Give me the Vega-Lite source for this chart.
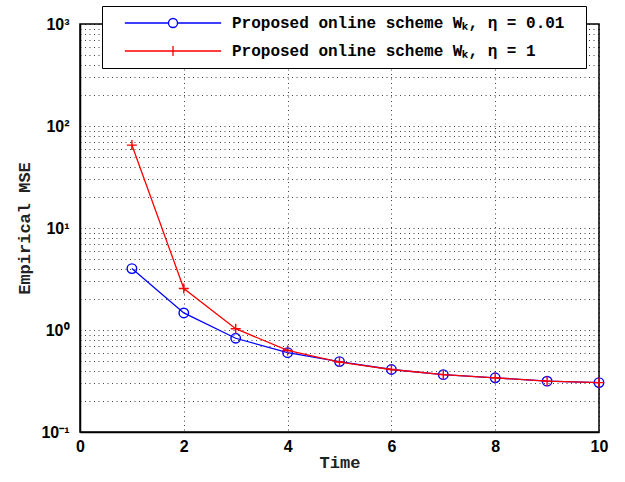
{
  "$schema": "https://vega.github.io/schema/vega-lite/v6.json",
  "width": 519,
  "height": 408,
  "autosize": "none",
  "padding": {"left": 80, "top": 24, "right": 26, "bottom": 50},
  "background": "white",
  "config": {"view": {"stroke": "black", "strokeWidth": 1.5}},
  "data": {
    "values": [
      {"time": 1, "mse": 4.0, "eta": "0.01", "series": "Proposed online scheme Wₖ, η = 0.01"},
      {"time": 2, "mse": 1.47, "eta": "0.01", "series": "Proposed online scheme Wₖ, η = 0.01"},
      {"time": 3, "mse": 0.83, "eta": "0.01", "series": "Proposed online scheme Wₖ, η = 0.01"},
      {"time": 4, "mse": 0.6, "eta": "0.01", "series": "Proposed online scheme Wₖ, η = 0.01"},
      {"time": 5, "mse": 0.49, "eta": "0.01", "series": "Proposed online scheme Wₖ, η = 0.01"},
      {"time": 6, "mse": 0.41, "eta": "0.01", "series": "Proposed online scheme Wₖ, η = 0.01"},
      {"time": 7, "mse": 0.365, "eta": "0.01", "series": "Proposed online scheme Wₖ, η = 0.01"},
      {"time": 8, "mse": 0.34, "eta": "0.01", "series": "Proposed online scheme Wₖ, η = 0.01"},
      {"time": 9, "mse": 0.315, "eta": "0.01", "series": "Proposed online scheme Wₖ, η = 0.01"},
      {"time": 10, "mse": 0.305, "eta": "0.01", "series": "Proposed online scheme Wₖ, η = 0.01"},
      {"time": 1, "mse": 65, "eta": "1", "series": "Proposed online scheme Wₖ, η = 1"},
      {"time": 2, "mse": 2.55, "eta": "1", "series": "Proposed online scheme Wₖ, η = 1"},
      {"time": 3, "mse": 1.03, "eta": "1", "series": "Proposed online scheme Wₖ, η = 1"},
      {"time": 4, "mse": 0.63, "eta": "1", "series": "Proposed online scheme Wₖ, η = 1"},
      {"time": 5, "mse": 0.485, "eta": "1", "series": "Proposed online scheme Wₖ, η = 1"},
      {"time": 6, "mse": 0.41, "eta": "1", "series": "Proposed online scheme Wₖ, η = 1"},
      {"time": 7, "mse": 0.365, "eta": "1", "series": "Proposed online scheme Wₖ, η = 1"},
      {"time": 8, "mse": 0.34, "eta": "1", "series": "Proposed online scheme Wₖ, η = 1"},
      {"time": 9, "mse": 0.315, "eta": "1", "series": "Proposed online scheme Wₖ, η = 1"},
      {"time": 10, "mse": 0.305, "eta": "1", "series": "Proposed online scheme Wₖ, η = 1"}
    ]
  },
  "encoding": {
    "x": {
      "field": "time",
      "type": "quantitative",
      "scale": {"domain": [0, 10], "nice": false, "zero": false},
      "axis": {
        "values": [0, 2, 4, 6, 8, 10],
        "title": "Time",
        "titleFont": "Liberation Mono",
        "titleFontSize": 17,
        "titleFontWeight": "bold",
        "titleColor": "#222",
        "titlePadding": 0,
        "labelFont": "Liberation Sans",
        "labelFontSize": 16,
        "labelFontWeight": "bold",
        "labelColor": "black",
        "labelPadding": 6,
        "labelFlush": false,
        "ticks": false,
        "grid": true,
        "gridDash": [1, 3.5],
        "gridColor": "#000",
        "gridOpacity": 0.75,
        "domainColor": "black",
        "domainWidth": 1.5
      }
    },
    "y": {
      "field": "mse",
      "type": "quantitative",
      "scale": {"type": "log", "domain": [0.1, 1000], "nice": false},
      "axis": {
        "values": [0.1, 0.2, 0.3, 0.4, 0.5, 0.6, 0.7, 0.8, 0.9, 1, 2, 3, 4, 5, 6, 7, 8, 9, 10, 20, 30, 40, 50, 60, 70, 80, 90, 100, 200, 300, 400, 500, 600, 700, 800, 900, 1000],
        "labelExpr": "datum.value == 0.1 ? '10⁻¹' : datum.value == 1 ? '10⁰' : datum.value == 10 ? '10¹' : datum.value == 100 ? '10²' : datum.value == 1000 ? '10³' : ''",
        "title": "Empirical MSE",
        "titleFont": "Liberation Mono",
        "titleFontSize": 17,
        "titleFontWeight": "bold",
        "titleColor": "#222",
        "titlePadding": 7,
        "labelFont": "Liberation Sans",
        "labelFontSize": 16,
        "labelFontWeight": "bold",
        "labelColor": "black",
        "labelPadding": 11,
        "labelFlush": false,
        "labelOverlap": false,
        "ticks": false,
        "grid": true,
        "gridDash": [1, 3.5],
        "gridColor": "#000",
        "gridOpacity": 0.75,
        "domainColor": "black",
        "domainWidth": 1.5
      }
    }
  },
  "layer": [
    {
      "transform": [{"filter": {"field": "eta", "equal": "0.01"}}],
      "mark": {"type": "line", "color": "#0000ff", "strokeWidth": 1.3}
    },
    {
      "transform": [{"filter": {"field": "eta", "equal": "0.01"}}],
      "mark": {"type": "point", "shape": "circle", "size": 90, "filled": false, "color": "#0000ff", "strokeWidth": 1.4, "opacity": 1}
    },
    {
      "transform": [{"filter": {"field": "eta", "equal": "1"}}],
      "mark": {"type": "line", "color": "#ff0000", "strokeWidth": 1.3}
    },
    {
      "transform": [{"filter": {"field": "eta", "equal": "1"}}],
      "mark": {"type": "point", "shape": "M-1,0H1M0,-1V1", "size": 100, "filled": false, "color": "#ff0000", "strokeWidth": 1.4, "opacity": 1}
    },
    {
      "mark": {"type": "point", "filled": false, "opacity": 0, "strokeWidth": 1.3},
      "encoding": {
        "color": {
          "field": "series",
          "type": "nominal",
          "scale": {"domain": ["Proposed online scheme Wₖ, η = 0.01", "Proposed online scheme Wₖ, η = 1"], "range": ["#0000ff", "#ff0000"]},
          "legend": {
            "orient": "none",
            "legendX": 22,
            "legendY": -18,
            "title": null,
            "labelFont": "Liberation Mono",
            "labelFontSize": 16,
            "labelFontWeight": "bold",
            "labelColor": "black",
            "labelExpr": "datum.label + '\u2800'",
            "labelLimit": 0,
            "strokeColor": "black",
            "fillColor": "white",
            "padding": 9,
            "rowPadding": 12,
            "symbolSize": 81,
            "symbolStrokeWidth": 1.3,
            "symbolOpacity": 1,
            "symbolOffset": 54,
            "labelOffset": 51,
            "encode": {"symbols": {"update": {"opacity": {"value": 1}}}}
          }
        },
        "shape": {
          "field": "series",
          "type": "nominal",
          "scale": {"domain": ["Proposed online scheme Wₖ, η = 0.01", "Proposed online scheme Wₖ, η = 1"], "range": ["M-10.7,0H-1M1,0H10.7M1,0A1,1 0 1,1 -1,0A1,1 0 1,1 1,0", "M-10.7,0H10.7M0,-1.1V1.1"]}
        }
      }
    }
  ]
}
